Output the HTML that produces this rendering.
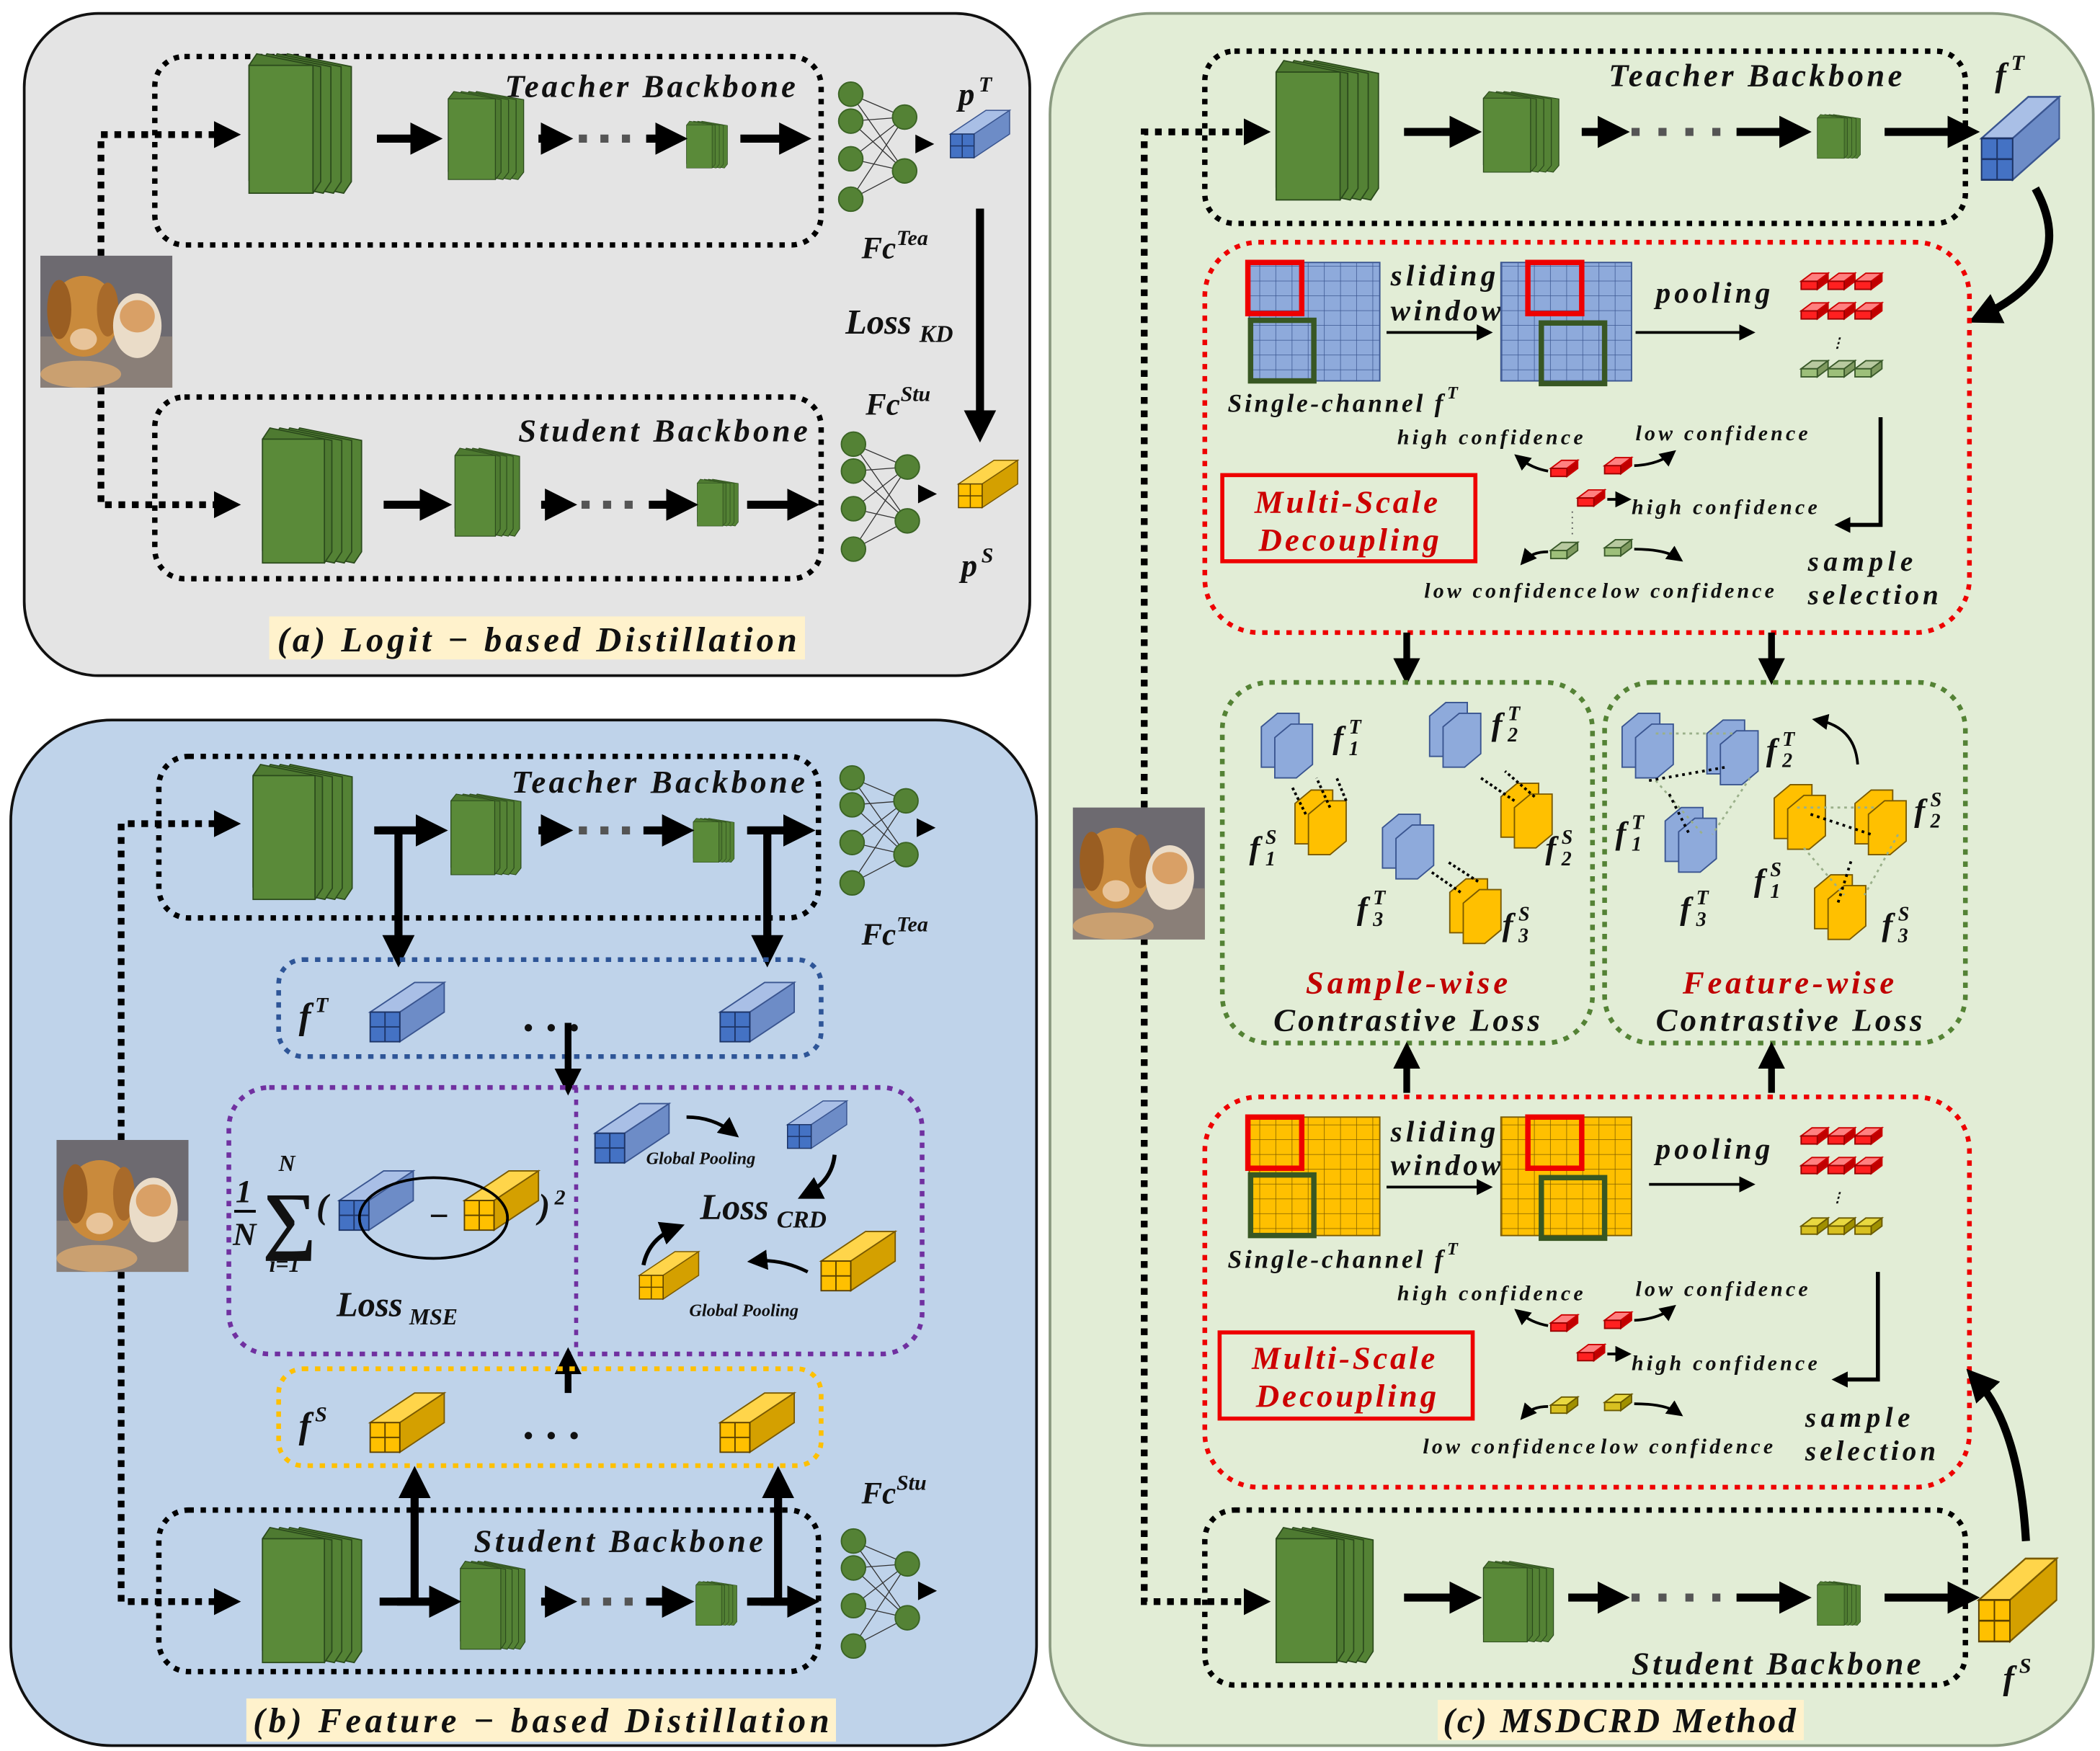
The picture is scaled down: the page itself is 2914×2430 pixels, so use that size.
<!DOCTYPE html>
<html><head><meta charset="utf-8"><style>
html,body{margin:0;padding:0;background:#fff}
svg{display:block}
text{font-family:"Liberation Serif",serif;font-weight:bold;font-style:italic;fill:#111}
</style></head><body>
<svg width="2914" height="2430" viewBox="0 0 1560 1301" preserveAspectRatio="none" xmlns="http://www.w3.org/2000/svg">
<defs>
<marker id="ah" markerWidth="4" markerHeight="4" refX="2.2" refY="2" orient="auto" markerUnits="strokeWidth"><path d="M0,0 L4,2 L0,4 Z" fill="#000"/></marker>
<marker id="as" markerWidth="6" markerHeight="6" refX="4" refY="3" orient="auto" markerUnits="strokeWidth"><path d="M0,0 L6,3 L0,6 Z" fill="#000"/></marker>
<g id="gs">
<g stroke="#2b4a1c" stroke-width="1" fill="#548235">
<polygon points="24,9 30,0 80,10 80,100 74,109 24,99"/>
<polygon points="16,9 22,0 72,10 72,100 66,109 16,99"/>
<polygon points="8,9 14,0 64,10 64,100 58,109 8,99"/>
<polygon points="0,9 6,0 56,10 56,100 50,109 0,99" fill="#4e7a31"/>
<rect x="0" y="9" width="50" height="100" fill="#5a8a39"/>
</g></g>
<g id="bc">
<polygon points="0,22 33,0 55,0 22,22" fill="#a9bfe6" stroke="#3a5590"/>
<polygon points="22,22 55,0 55,22 22,44" fill="#6d8cc7" stroke="#3a5590"/>
<rect x="0" y="22" width="22" height="22" fill="#4472c4" stroke="#1d3466"/>
<path d="M11,22V44M0,33H22" stroke="#1d3466"/>
</g>
<g id="yc">
<polygon points="0,22 33,0 55,0 22,22" fill="#ffd54a" stroke="#7a5a00"/>
<polygon points="22,22 55,0 55,22 22,44" fill="#d4a000" stroke="#7a5a00"/>
<rect x="0" y="22" width="22" height="22" fill="#ffc000" stroke="#5a4000"/>
<path d="M11,22V44M0,33H22" stroke="#5a4000"/>
</g>
<g id="nn">
<g stroke="#333" stroke-width="0.7">
<path d="M0,0L40,17M0,0L40,57M0,20L40,17M0,20L40,57M0,48L40,17M0,48L40,57M0,78L40,17M0,78L40,57"/></g>
<g fill="#548235" stroke="#3a6324"><circle cx="0" cy="0" r="9"/><circle cx="0" cy="20" r="9"/><circle cx="0" cy="48" r="9"/><circle cx="0" cy="78" r="9"/><circle cx="40" cy="17" r="9"/><circle cx="40" cy="57" r="9"/></g>
<polygon points="48,30 62,37 48,44" fill="#000"/>
</g>
<g id="dog">
<rect width="98" height="98" fill="#6d6a70"/>
<rect y="60" width="98" height="38" fill="#8a7f78"/>
<ellipse cx="32" cy="45" rx="26" ry="30" fill="#c98a3c"/>
<ellipse cx="14" cy="40" rx="9" ry="22" fill="#9a5e22"/>
<ellipse cx="50" cy="40" rx="8" ry="20" fill="#a86a2a"/>
<ellipse cx="32" cy="62" rx="10" ry="8" fill="#e8c49a"/>
<ellipse cx="72" cy="52" rx="18" ry="24" fill="#eadcc8"/>
<ellipse cx="72" cy="45" rx="13" ry="12" fill="#d9a066"/>
<ellipse cx="30" cy="88" rx="30" ry="10" fill="#caa070"/>
</g>
<g id="sr"><polygon points="0,6 8,0 20,0 12,6" fill="#ff8080" stroke="#c00"/><polygon points="12,6 20,0 20,6 12,12" fill="#c00000" stroke="#c00"/><rect x="0" y="6" width="12" height="6" fill="#ff2020" stroke="#900"/></g>
<g id="sg"><polygon points="0,6 8,0 20,0 12,6" fill="#b8c9a0" stroke="#3a5a2a"/><polygon points="12,6 20,0 20,6 12,12" fill="#7f9a60" stroke="#3a5a2a"/><rect x="0" y="6" width="12" height="6" fill="#9dbf7a" stroke="#3a5a2a"/></g>
<g id="sy"><polygon points="0,6 8,0 20,0 12,6" fill="#e8d840" stroke="#6a5a00"/><polygon points="12,6 20,0 20,6 12,12" fill="#a09000" stroke="#6a5a00"/><rect x="0" y="6" width="12" height="6" fill="#d8c020" stroke="#6a5a00"/></g>
<g id="pb"><polygon points="0,10 12,0 28,0 28,30 16,40 0,40" fill="#8eaadb" stroke="#3a5590"/><polygon points="10,18 22,8 38,8 38,38 26,48 10,48" fill="#8eaadb" stroke="#3a5590"/></g>
<g id="py"><polygon points="0,10 12,0 28,0 28,30 16,40 0,40" fill="#ffc000" stroke="#7a5a00"/><polygon points="10,18 22,8 38,8 38,38 26,48 10,48" fill="#ffc000" stroke="#7a5a00"/></g>
<pattern id="gb" width="12" height="11" patternUnits="userSpaceOnUse"><rect width="12" height="11" fill="#8eaadb"/><path d="M12,0V11M0,11H12" stroke="#3a5590" stroke-width="0.8"/></pattern>
<pattern id="gy" width="12" height="11" patternUnits="userSpaceOnUse"><rect width="12" height="11" fill="#ffc000"/><path d="M12,0V11M0,11H12" stroke="#7a5a00" stroke-width="0.8"/></pattern>
</defs>

<!-- Panel a -->
<rect x="18" y="10" width="747" height="492" rx="55" fill="#e4e4e4" stroke="#111" stroke-width="2"/>
<rect x="115" y="42" width="495" height="140" rx="22" fill="none" stroke="#000" stroke-width="4" stroke-dasharray="4 5"/>
<text x="375" y="72" font-size="24" textLength="216">Teacher Backbone</text>
<rect x="115" y="295" width="495" height="135" rx="22" fill="none" stroke="#000" stroke-width="4" stroke-dasharray="4 5"/>
<text x="385" y="328" font-size="24" textLength="215">Student Backbone</text>
<use href="#dog" x="30" y="190"/>
<path d="M75,190V100H170" fill="none" stroke="#000" stroke-width="5" stroke-dasharray="5 5" marker-end="url(#ah)"/>
<path d="M75,288V375H170" fill="none" stroke="#000" stroke-width="5" stroke-dasharray="5 5" marker-end="url(#ah)"/>
<use href="#gs" transform="translate(185,40) scale(0.95)"/>
<use href="#gs" transform="translate(333,68) scale(0.7,0.6)"/>
<use href="#gs" transform="translate(510,90) scale(0.38,0.32)"/>
<g stroke="#000" stroke-width="6" marker-end="url(#ah)"><path d="M280,103H318"/><path d="M480,103H500" /><path d="M550,103H592"/></g>
<path d="M400,103H415" stroke="#000" stroke-width="6" marker-end="url(#ah)"/>
<path d="M430,103H470" stroke="#555" stroke-width="6" stroke-dasharray="6 10"/>
<use href="#nn" x="632" y="70"/>
<use href="#bc" transform="translate(706,82) scale(0.8)"/>
<text x="712" y="78" font-size="24">p</text><text x="727" y="68" font-size="16">T</text>
<text x="640" y="192" font-size="23">Fc</text><text x="666" y="182" font-size="16">Tea</text>
<path d="M728,155V318" stroke="#000" stroke-width="6" marker-end="url(#ah)"/>
<text x="628" y="248" font-size="26">Loss</text><text x="683" y="254" font-size="18">KD</text>
<text x="643" y="308" font-size="23">Fc</text><text x="669" y="298" font-size="16">Stu</text>
<use href="#gs" transform="translate(195,318) scale(0.92)"/>
<use href="#gs" transform="translate(338,333) scale(0.6)"/>
<use href="#gs" transform="translate(518,356) scale(0.38,0.32)"/>
<g stroke="#000" stroke-width="6" marker-end="url(#ah)"><path d="M285,375H325"/><path d="M402,375H418"/><path d="M482,375H508"/><path d="M555,375H598"/></g>
<path d="M432,375H472" stroke="#555" stroke-width="6" stroke-dasharray="6 10"/>
<use href="#nn" x="634" y="330"/>
<use href="#yc" transform="translate(712,342) scale(0.8)"/>
<text x="714" y="428" font-size="24">p</text><text x="729" y="418" font-size="16">S</text>
<rect x="200" y="458" width="398" height="32" fill="#fff2cc"/>
<text x="206" y="484" font-size="26" textLength="386">(a) Logit − based Distillation</text>

<!-- Panel b -->
<rect x="8" y="535" width="762" height="762" rx="75" fill="#bfd3ea" stroke="#111" stroke-width="2"/>
<rect x="118" y="562" width="490" height="120" rx="22" fill="none" stroke="#000" stroke-width="4" stroke-dasharray="4 5"/>
<text x="380" y="589" font-size="24" textLength="218">Teacher Backbone</text>
<use href="#gs" transform="translate(188,568) scale(0.92)"/>
<use href="#gs" transform="translate(335,590) scale(0.65,0.55)"/>
<use href="#gs" transform="translate(515,608) scale(0.38,0.3)"/>
<g stroke="#000" stroke-width="6" marker-end="url(#ah)"><path d="M278,617H322"/><path d="M400,617H415"/><path d="M478,617H505"/><path d="M555,617H595"/></g>
<path d="M430,617H470" stroke="#555" stroke-width="6" stroke-dasharray="6 10"/>
<path d="M90,847V612H170" fill="none" stroke="#000" stroke-width="5" stroke-dasharray="5 5" marker-end="url(#ah)"/>
<path d="M90,945V1190H170" fill="none" stroke="#000" stroke-width="5" stroke-dasharray="5 5" marker-end="url(#ah)"/>
<use href="#dog" x="42" y="847"/>
<use href="#nn" x="633" y="578"/>
<text x="640" y="702" font-size="23">Fc</text><text x="666" y="692" font-size="16">Tea</text>
<g stroke="#000" stroke-width="6"><path d="M282,617H310M556,617H585"/><path d="M296,617V708" marker-end="url(#ah)"/><path d="M570,617V708" marker-end="url(#ah)"/></g>
<rect x="207" y="713" width="403" height="72" rx="18" fill="none" stroke="#2e5597" stroke-width="3.5" stroke-dasharray="4 5"/>
<text x="222" y="764" font-size="27">f</text><text x="234" y="752" font-size="16">T</text>
<use href="#bc" x="275" y="730"/><use href="#bc" x="535" y="730"/>
<text x="388" y="775" font-size="34" font-style="normal">· · ·</text>
<path d="M422,760V805" stroke="#000" stroke-width="5" marker-end="url(#ah)"/>
<rect x="170" y="808" width="515" height="198" rx="30" fill="none" stroke="#7030a0" stroke-width="3.5" stroke-dasharray="4 5"/>
<path d="M428,808V1006" stroke="#7030a0" stroke-width="3" stroke-dasharray="4 5"/>
<text x="175" y="893" font-size="24" font-style="normal">1</text><path d="M174,900H190" stroke="#000" stroke-width="2"/><text x="173" y="925" font-size="24">N</text>
<text x="195" y="925" font-size="56" font-style="normal">∑</text>
<text x="207" y="870" font-size="17">N</text><text x="200" y="945" font-size="17">i=1</text>
<text x="235" y="905" font-size="26" font-style="normal">(</text>
<use href="#bc" x="252" y="870"/>
<text x="318" y="912" font-size="26" font-style="normal">−</text>
<use href="#yc" x="345" y="870"/>
<text x="400" y="905" font-size="26" font-style="normal">)</text><text x="412" y="895" font-size="16" font-style="normal">2</text>
<ellipse cx="322" cy="905" rx="55" ry="30" fill="none" stroke="#000" stroke-width="2"/>
<text x="250" y="978" font-size="26">Loss</text><text x="304" y="984" font-size="17">MSE</text>
<use href="#bc" x="442" y="820"/>
<use href="#bc" transform="translate(585,818) scale(0.8)"/>
<text x="480" y="865" font-size="13">Global Pooling</text>
<path d="M510,830 Q530,830 545,842" stroke="#000" stroke-width="2.5" fill="none" marker-end="url(#as)"/>
<path d="M620,858 Q618,878 598,888" stroke="#000" stroke-width="3" fill="none" marker-end="url(#as)"/>
<text x="520" y="906" font-size="27">Loss</text><text x="577" y="912" font-size="18">CRD</text>
<use href="#yc" x="610" y="915"/>
<use href="#yc" transform="translate(475,930) scale(0.8)"/>
<text x="512" y="978" font-size="13">Global Pooling</text>
<path d="M600,945 Q580,935 560,937" stroke="#000" stroke-width="2.5" fill="none" marker-end="url(#as)"/>
<path d="M478,940 Q482,920 503,912" stroke="#000" stroke-width="3" fill="none" marker-end="url(#as)"/>
<path d="M422,1035V1010" stroke="#000" stroke-width="5" marker-end="url(#ah)"/>
<rect x="207" y="1017" width="403" height="72" rx="18" fill="none" stroke="#ffc000" stroke-width="3.5" stroke-dasharray="4 5"/>
<text x="222" y="1068" font-size="27">f</text><text x="234" y="1056" font-size="16">S</text>
<use href="#yc" x="275" y="1035"/><use href="#yc" x="535" y="1035"/>
<text x="388" y="1078" font-size="34" font-style="normal">· · ·</text>
<rect x="118" y="1122" width="490" height="120" rx="22" fill="none" stroke="#000" stroke-width="4" stroke-dasharray="4 5"/>
<text x="352" y="1153" font-size="24" textLength="215">Student Backbone</text>
<use href="#gs" transform="translate(195,1135) scale(0.92)"/>
<use href="#gs" transform="translate(342,1160) scale(0.6)"/>
<use href="#gs" transform="translate(517,1175) scale(0.38,0.3)"/>
<g stroke="#000" stroke-width="6" marker-end="url(#ah)"><path d="M282,1190H332"/><path d="M402,1190H418"/><path d="M480,1190H505"/><path d="M555,1190H598"/></g>
<path d="M432,1190H470" stroke="#555" stroke-width="6" stroke-dasharray="6 10"/>
<g stroke="#000" stroke-width="6"><path d="M295,1190H322M565,1190H590"/><path d="M308,1190V1100" marker-end="url(#ah)"/><path d="M578,1190V1100" marker-end="url(#ah)"/></g>
<use href="#nn" x="634" y="1145"/>
<text x="640" y="1117" font-size="23">Fc</text><text x="666" y="1107" font-size="16">Stu</text>
<rect x="183" y="1262" width="438" height="32" fill="#fff2cc"/>
<text x="188" y="1287" font-size="26" textLength="428">(b) Feature − based Distillation</text>

<!-- Panel c -->
<rect x="780" y="10" width="775" height="1287" rx="75" fill="#e2edd6" stroke="#8a9a80" stroke-width="2"/>
<rect x="895" y="38" width="565" height="128" rx="22" fill="none" stroke="#000" stroke-width="4" stroke-dasharray="4 5"/>
<text x="1195" y="64" font-size="24" textLength="218">Teacher Backbone</text>
<path d="M850,600V98H935" fill="none" stroke="#000" stroke-width="5" stroke-dasharray="5 5" marker-end="url(#ah)"/>
<path d="M850,697V1190H935" fill="none" stroke="#000" stroke-width="5" stroke-dasharray="5 5" marker-end="url(#ah)"/>
<use href="#dog" x="797" y="600"/>
<use href="#gs" transform="translate(948,45) scale(0.95)"/>
<use href="#gs" transform="translate(1102,68) scale(0.7,0.55)"/>
<use href="#gs" transform="translate(1350,85) scale(0.4,0.3)"/>
<g stroke="#000" stroke-width="6" marker-end="url(#ah)"><path d="M1043,98H1090"/><path d="M1175,98H1200"/><path d="M1290,98H1335"/><path d="M1400,98H1460"/></g>
<path d="M1212,98H1280" stroke="#555" stroke-width="6" stroke-dasharray="6 14"/>
<use href="#bc" transform="translate(1472,72) scale(1.05,1.4)"/>
<text x="1482" y="64" font-size="25">f</text><text x="1494" y="52" font-size="16">T</text>
<path d="M1512,140 Q1545,200 1472,235" stroke="#000" stroke-width="6" fill="none" marker-end="url(#ah)"/>

<!-- red box 1 -->
<rect x="895" y="180" width="568" height="290" rx="40" fill="none" stroke="#e00" stroke-width="3.5" stroke-dasharray="4 5"/>
<rect x="928" y="195" width="97" height="88" fill="url(#gb)" stroke="#3a5590"/>
<rect x="927" y="195" width="40" height="38" fill="none" stroke="#e00" stroke-width="4"/>
<rect x="929" y="238" width="47" height="45" fill="none" stroke="#385723" stroke-width="4"/>
<text x="1033" y="212" font-size="22" textLength="78">sliding</text><text x="1033" y="238" font-size="22" textLength="82">window</text>
<path d="M1030,247H1105" stroke="#000" stroke-width="2" marker-end="url(#as)"/>
<rect x="1115" y="195" width="97" height="88" fill="url(#gb)" stroke="#3a5590"/>
<rect x="1135" y="195" width="40" height="38" fill="none" stroke="#e00" stroke-width="4"/>
<rect x="1145" y="240" width="47" height="45" fill="none" stroke="#385723" stroke-width="4"/>
<text x="1230" y="225" font-size="22" textLength="85">pooling</text>
<path d="M1215,247H1300" stroke="#000" stroke-width="2" marker-end="url(#as)"/>
<use href="#sr" x="1338" y="203"/><use href="#sr" x="1358" y="203"/><use href="#sr" x="1378" y="203"/>
<use href="#sr" x="1338" y="225"/><use href="#sr" x="1358" y="225"/><use href="#sr" x="1378" y="225"/>
<text x="1360" y="258" font-size="10" font-style="normal">⋮</text>
<use href="#sg" x="1338" y="268"/><use href="#sg" x="1358" y="268"/><use href="#sg" x="1378" y="268"/>
<text x="912" y="306" font-size="19" textLength="160">Single-channel f</text><text x="1075" y="296" font-size="13">T</text>
<text x="1038" y="330" font-size="16" textLength="138">high confidence</text>
<text x="1215" y="327" font-size="16" textLength="128">low confidence</text>
<path d="M1397,310V390H1368" fill="none" stroke="#000" stroke-width="3" marker-end="url(#ah)"/>
<rect x="908" y="353" width="188" height="64" fill="none" stroke="#e00" stroke-width="3"/>
<text x="932" y="381" font-size="24" textLength="136" style="fill:#c00">Multi-Scale</text>
<text x="935" y="409" font-size="24" textLength="134" style="fill:#c00">Decoupling</text>
<use href="#sr" x="1152" y="342"/><use href="#sr" x="1192" y="340"/><use href="#sr" x="1172" y="364"/>
<use href="#sg" x="1152" y="403"/><use href="#sg" x="1192" y="401"/>
<path d="M1150,350 Q1138,348 1128,340" stroke="#000" stroke-width="2" fill="none" marker-end="url(#as)"/>
<path d="M1214,346 Q1232,345 1242,337" stroke="#000" stroke-width="2" fill="none" marker-end="url(#as)"/>
<path d="M1194,371H1208" stroke="#000" stroke-width="2" marker-end="url(#as)"/>
<text x="1212" y="382" font-size="16" textLength="138">high confidence</text>
<path d="M1150,410 Q1138,410 1132,417" stroke="#000" stroke-width="2" fill="none" marker-end="url(#as)"/>
<path d="M1214,408 Q1237,408 1247,415" stroke="#000" stroke-width="2" fill="none" marker-end="url(#as)"/>
<path d="M1168,380V400" stroke="#555" stroke-dasharray="1 3"/>
<text x="1058" y="444" font-size="16" textLength="128">low confidence</text><text x="1190" y="444" font-size="16" textLength="128">low confidence</text>
<text x="1343" y="424" font-size="21" textLength="78">sample</text><text x="1343" y="449" font-size="21" textLength="97">selection</text>
<path d="M1045,470V500" stroke="#000" stroke-width="5" marker-end="url(#ah)"/>
<path d="M1316,470V500" stroke="#000" stroke-width="5" marker-end="url(#ah)"/>

<!-- green boxes -->
<rect x="908" y="507" width="275" height="268" rx="35" fill="none" stroke="#548235" stroke-width="3.5" stroke-dasharray="4 5"/>
<rect x="1192" y="507" width="268" height="268" rx="35" fill="none" stroke="#548235" stroke-width="3.5" stroke-dasharray="4 5"/>
<use href="#pb" x="937" y="530"/><use href="#py" x="962" y="587"/>
<use href="#pb" x="1062" y="522"/><use href="#py" x="1115" y="582"/>
<use href="#pb" x="1027" y="605"/><use href="#py" x="1077" y="653"/>
<g stroke="#000" stroke-width="2" stroke-dasharray="2 2"><path d="M970,605L960,585M988,600L978,578M1000,595L993,578"/><path d="M1125,595L1100,578M1140,592L1118,573"/><path d="M1085,663L1062,647M1098,655L1075,640"/></g>
<g font-size="24">
<text x="990" y="556">f</text><text x="1002" y="561" font-size="15">1</text><text x="1002" y="545" font-size="15">T</text>
<text x="1108" y="546">f</text><text x="1120" y="551" font-size="15">2</text><text x="1120" y="535" font-size="15">T</text>
<text x="928" y="638">f</text><text x="940" y="643" font-size="15">1</text><text x="940" y="627" font-size="15">S</text>
<text x="1148" y="638">f</text><text x="1160" y="643" font-size="15">2</text><text x="1160" y="627" font-size="15">S</text>
<text x="1008" y="683">f</text><text x="1020" y="688" font-size="15">3</text><text x="1020" y="672" font-size="15">T</text>
<text x="1116" y="695">f</text><text x="1128" y="700" font-size="15">3</text><text x="1128" y="684" font-size="15">S</text>
<text x="1312" y="565">f</text><text x="1324" y="570" font-size="15">2</text><text x="1324" y="554" font-size="15">T</text>
<text x="1200" y="627">f</text><text x="1212" y="632" font-size="15">1</text><text x="1212" y="616" font-size="15">T</text>
<text x="1422" y="610">f</text><text x="1434" y="615" font-size="15">2</text><text x="1434" y="599" font-size="15">S</text>
<text x="1303" y="662">f</text><text x="1315" y="667" font-size="15">1</text><text x="1315" y="651" font-size="15">S</text>
<text x="1248" y="683">f</text><text x="1260" y="688" font-size="15">3</text><text x="1260" y="672" font-size="15">T</text>
<text x="1398" y="695">f</text><text x="1410" y="700" font-size="15">3</text><text x="1410" y="684" font-size="15">S</text>
</g>
<text x="970" y="738" font-size="24" textLength="150" style="fill:#c00000">Sample-wise</text>
<text x="946" y="766" font-size="24" textLength="198">Contrastive Loss</text>
<use href="#pb" x="1205" y="530"/><use href="#pb" x="1268" y="535"/><use href="#pb" x="1237" y="600"/>
<use href="#py" x="1318" y="583"/><use href="#py" x="1378" y="587"/><use href="#py" x="1348" y="650"/>
<g stroke="#9ab08a" stroke-width="1.5" stroke-dasharray="2 3"><path d="M1230,545L1290,545M1230,580L1265,620M1300,578L1272,620M1335,600L1395,600M1340,630L1370,665M1410,620L1385,665"/></g>
<g stroke="#000" stroke-width="2" stroke-dasharray="2 3"><path d="M1225,580L1282,570M1240,590L1255,620M1345,605L1390,620M1375,640L1365,672"/></g>
<path d="M1380,568 Q1378,540 1350,535" stroke="#000" stroke-width="2" fill="none" marker-end="url(#as)"/>
<text x="1250" y="738" font-size="24" textLength="157" style="fill:#c00000">Feature-wise</text>
<text x="1230" y="766" font-size="24" textLength="198">Contrastive Loss</text>
<path d="M1045,812V783" stroke="#000" stroke-width="5" marker-end="url(#ah)"/>
<path d="M1316,812V783" stroke="#000" stroke-width="5" marker-end="url(#ah)"/>

<!-- red box 2 -->
<rect x="895" y="815" width="568" height="290" rx="40" fill="none" stroke="#e00" stroke-width="3.5" stroke-dasharray="4 5"/>
<rect x="928" y="830" width="97" height="88" fill="url(#gy)" stroke="#7a5a00"/>
<rect x="927" y="830" width="40" height="38" fill="none" stroke="#e00" stroke-width="4"/>
<rect x="929" y="873" width="47" height="45" fill="none" stroke="#385723" stroke-width="4"/>
<text x="1033" y="848" font-size="22" textLength="78">sliding</text><text x="1033" y="873" font-size="22" textLength="82">window</text>
<path d="M1030,882H1105" stroke="#000" stroke-width="2" marker-end="url(#as)"/>
<rect x="1115" y="830" width="97" height="88" fill="url(#gy)" stroke="#7a5a00"/>
<rect x="1135" y="830" width="40" height="38" fill="none" stroke="#e00" stroke-width="4"/>
<rect x="1145" y="875" width="47" height="45" fill="none" stroke="#385723" stroke-width="4"/>
<text x="1230" y="861" font-size="22" textLength="85">pooling</text>
<path d="M1225,880H1300" stroke="#000" stroke-width="2" marker-end="url(#as)"/>
<use href="#sr" x="1338" y="838"/><use href="#sr" x="1358" y="838"/><use href="#sr" x="1378" y="838"/>
<use href="#sr" x="1338" y="860"/><use href="#sr" x="1358" y="860"/><use href="#sr" x="1378" y="860"/>
<text x="1360" y="893" font-size="10" font-style="normal">⋮</text>
<use href="#sy" x="1338" y="905"/><use href="#sy" x="1358" y="905"/><use href="#sy" x="1378" y="905"/>
<text x="912" y="942" font-size="19" textLength="160">Single-channel f</text><text x="1075" y="932" font-size="13">T</text>
<text x="1038" y="966" font-size="16" textLength="138">high confidence</text>
<text x="1215" y="963" font-size="16" textLength="128">low confidence</text>
<path d="M1395,945V1025H1366" fill="none" stroke="#000" stroke-width="3" marker-end="url(#ah)"/>
<rect x="906" y="990" width="188" height="64" fill="none" stroke="#e00" stroke-width="3"/>
<text x="930" y="1017" font-size="24" textLength="136" style="fill:#c00">Multi-Scale</text>
<text x="933" y="1045" font-size="24" textLength="134" style="fill:#c00">Decoupling</text>
<use href="#sr" x="1152" y="977"/><use href="#sr" x="1192" y="975"/><use href="#sr" x="1172" y="999"/>
<use href="#sy" x="1152" y="1038"/><use href="#sy" x="1192" y="1036"/>
<path d="M1150,985 Q1138,983 1128,975" stroke="#000" stroke-width="2" fill="none" marker-end="url(#as)"/>
<path d="M1214,981 Q1232,980 1242,972" stroke="#000" stroke-width="2" fill="none" marker-end="url(#as)"/>
<path d="M1194,1006H1208" stroke="#000" stroke-width="2" marker-end="url(#as)"/>
<text x="1212" y="1018" font-size="16" textLength="138">high confidence</text>
<path d="M1150,1045 Q1138,1045 1132,1052" stroke="#000" stroke-width="2" fill="none" marker-end="url(#as)"/>
<path d="M1214,1043 Q1237,1043 1247,1050" stroke="#000" stroke-width="2" fill="none" marker-end="url(#as)"/>
<text x="1057" y="1080" font-size="16" textLength="128">low confidence</text><text x="1189" y="1080" font-size="16" textLength="128">low confidence</text>
<text x="1341" y="1060" font-size="21" textLength="78">sample</text><text x="1341" y="1085" font-size="21" textLength="97">selection</text>

<rect x="895" y="1122" width="565" height="130" rx="22" fill="none" stroke="#000" stroke-width="4" stroke-dasharray="4 5"/>
<use href="#gs" transform="translate(948,1135) scale(0.9,0.92)"/>
<use href="#gs" transform="translate(1102,1160) scale(0.65,0.55)"/>
<use href="#gs" transform="translate(1350,1175) scale(0.4,0.3)"/>
<g stroke="#000" stroke-width="6" marker-end="url(#ah)"><path d="M1043,1187H1090"/><path d="M1165,1187H1200"/><path d="M1290,1187H1335"/><path d="M1400,1187H1460"/></g>
<path d="M1212,1187H1280" stroke="#555" stroke-width="6" stroke-dasharray="6 14"/>
<text x="1212" y="1244" font-size="24" textLength="215">Student Backbone</text>
<use href="#yc" transform="translate(1470,1158) scale(1.05,1.4)"/>
<text x="1488" y="1255" font-size="25">f</text><text x="1500" y="1243" font-size="16">S</text>
<path d="M1505,1145 Q1500,1060 1468,1025" stroke="#000" stroke-width="6" fill="none" marker-end="url(#ah)"/>
<rect x="1068" y="1263" width="272" height="30" fill="#fff2cc"/>
<text x="1072" y="1287" font-size="26" textLength="262">(c) MSDCRD Method</text>
</svg>
</body></html>
